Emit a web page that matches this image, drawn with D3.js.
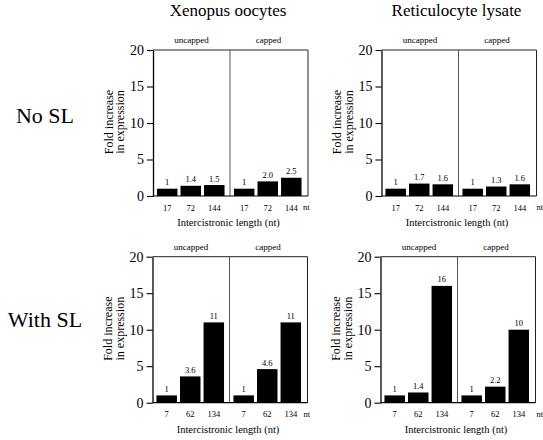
<!DOCTYPE html>
<html><head><meta charset="utf-8">
<script src="https://cdn.jsdelivr.net/npm/d3@7"></script>
<style>body{margin:0;background:#fff}</style>
</head><body>
<script>
// ---- data ----
const groups = ["uncapped", "capped"];
const columnTitles = ["Xenopus oocytes", "Reticulocyte lysate"];
const rowTitles = ["No SL", "With SL"];
const yTicks = [0, 5, 10, 15, 20];
const ticksNoSL = ["17", "72", "144"];
const ticksWithSL = ["7", "62", "134"];

const xenNoSL_uncapped = [1, 1.4, 1.5];
const xenNoSL_capped = [1, 2.0, 2.5];
const xenNoSL_uncappedLbl = ["1", "1.4", "1.5"];
const xenNoSL_cappedLbl = ["1", "2.0", "2.5"];

const retNoSL_uncapped = [1, 1.7, 1.6];
const retNoSL_capped = [1, 1.3, 1.6];
const retNoSL_uncappedLbl = ["1", "1.7", "1.6"];
const retNoSL_cappedLbl = ["1", "1.3", "1.6"];

const xenSL_uncapped = [1, 3.6, 11];
const xenSL_capped = [1, 4.6, 11];
const xenSL_uncappedLbl = ["1", "3.6", "11"];
const xenSL_cappedLbl = ["1", "4.6", "11"];

const retSL_uncapped = [1, 1.4, 16];
const retSL_capped = [1, 2.2, 10];
const retSL_uncappedLbl = ["1", "1.4", "16"];
const retSL_cappedLbl = ["1", "2.2", "10"];

// ---- drawing ----
const font = "Liberation Serif";
const svg = d3.select("body").append("svg")
  .attr("width", 543).attr("height", 440)
  .style("background", "#fff")
  .style("font-family", font);

const W = 155, H = 146, SUB = 77;

function txt(sel, size) {
  return sel.style("font-family", font).style("font-size", size + "px").attr("fill", "#000");
}

function panel(x0, yTop, series, labels, ticks, ntDx) {
  const g = svg.append("g").attr("transform", `translate(${x0},${yTop})`);
  const y = d3.scaleLinear().domain([0, 20]).range([H, 0]);
  const xb = d3.scaleBand().domain([0, 1, 2]).range([0, SUB])
    .paddingInner(0.13).paddingOuter(0.2).align(0.42);

  // frame
  g.append("line").attr("x1", 0).attr("x2", W).attr("y1", 0).attr("y2", 0).attr("stroke", "#222");
  g.append("line").attr("x1", W).attr("x2", W).attr("y1", 0).attr("y2", H).attr("stroke", "#222");
  g.append("line").attr("x1", SUB).attr("x2", SUB).attr("y1", 0).attr("y2", H).attr("stroke", "#555");
  g.append("line").attr("x1", 0).attr("x2", W).attr("y1", H).attr("y2", H).attr("stroke", "#000").attr("stroke-width", 1.2);

  // y axis
  const ya = g.append("g").call(d3.axisLeft(y).tickValues(yTicks).tickSize(6).tickPadding(3).tickSizeOuter(0));
  ya.attr("font-family", null).attr("font-size", null);
  txt(ya.selectAll(".tick text"), 14);
  ya.select(".domain").attr("stroke-width", 1.3);
  ya.selectAll(".tick line").attr("stroke-width", 1.1);

  // y title
  const yt = txt(g.append("text"), 12)
    .attr("text-anchor", "middle")
    .attr("transform", `translate(-40.5,${H / 2 - 1}) rotate(-90)`);
  yt.append("tspan").attr("x", 0).attr("dy", 0).text("Fold increase");
  yt.append("tspan").attr("x", 0).attr("dy", 11.5).text("in expression");

  groups.forEach((grp, gi) => {
    const gx = g.append("g").attr("transform", `translate(${gi * SUB},0)`);
    const vals = series[gi], lbls = labels[gi];
    gx.selectAll("rect").data(vals).join("rect")
      .attr("x", (d, i) => xb(i)).attr("width", xb.bandwidth())
      .attr("y", d => y(d)).attr("height", d => y(0) - y(d))
      .attr("fill", "#000");
    txt(gx.selectAll("text.val").data(vals).join("text").attr("class", "val"), 8.5)
      .attr("x", (d, i) => xb(i) + xb.bandwidth() / 2)
      .attr("y", d => y(d) - 3.5)
      .attr("text-anchor", "middle")
      .text((d, i) => lbls[i]);
    const xa = gx.append("g").attr("transform", `translate(0,${H})`)
      .call(d3.axisBottom(xb).tickSize(0).tickPadding(8.5).tickFormat(i => ticks[i]));
    xa.select(".domain").remove();
    xa.attr("font-family", null).attr("font-size", null);
    txt(xa.selectAll(".tick text"), 8.5);
    txt(gx.append("text"), 9).attr("x", SUB / 2).attr("y", -7)
      .attr("text-anchor", "middle")
      .text(grp);
  });

  txt(g.append("text"), 8.5).attr("x", W + ntDx).attr("y", H + 14).text("nt");

  txt(g.append("text"), 10.5).attr("x", W / 2 - 2).attr("y", H + 30)
    .attr("text-anchor", "middle")
    .text("Intercistronic length (nt)");
}

panel(153, 50, [xenNoSL_uncapped, xenNoSL_capped], [xenNoSL_uncappedLbl, xenNoSL_cappedLbl], ticksNoSL, -5);
panel(381.5, 50, [retNoSL_uncapped, retNoSL_capped], [retNoSL_uncappedLbl, retNoSL_cappedLbl], ticksNoSL, 0);
panel(152.5, 256.7, [xenSL_uncapped, xenSL_capped], [xenSL_uncappedLbl, xenSL_cappedLbl], ticksWithSL, -4);
panel(380.5, 256.7, [retSL_uncapped, retSL_capped], [retSL_uncappedLbl, retSL_cappedLbl], ticksWithSL, 1);

// column titles
[153, 381.5].forEach((x0, i) => {
  txt(svg.append("text"), 17).attr("x", x0 + W / 2 - 2.5).attr("y", 16)
    .attr("text-anchor", "middle")
    .text(columnTitles[i]);
});
// row titles
[123, 327].forEach((yb, i) => {
  txt(svg.append("text"), 22).attr("x", 45).attr("y", yb)
    .attr("text-anchor", "middle")
    .text(rowTitles[i]);
});
</script>
</body></html>
